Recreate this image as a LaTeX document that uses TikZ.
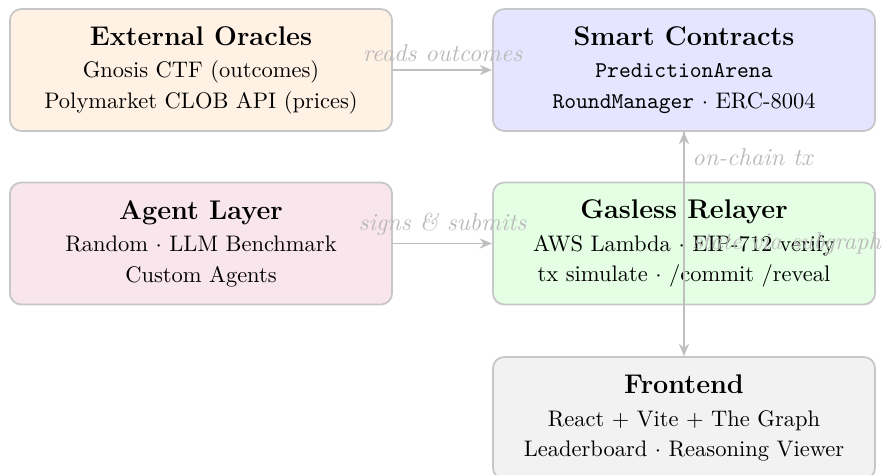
\documentclass[tikz,border=0pt]{standalone}
\usetikzlibrary{arrows.meta}
\begin{document}
\begin{tikzpicture}[x=0.4444pt,y=-0.4444pt,
  box/.style={draw=black!22, line width=0.8pt, rounded corners=5pt,
    minimum width=169.8pt, minimum height=54.2pt, align=center, inner sep=0pt},
  conn/.style={draw=black!25, line width=0.8pt, -{Stealth[length=5.5pt,width=4.5pt]}},
  lbl/.style={text=black!27, font=\fontsize{10.8}{13}\selectfont\itshape}]
\useasboundingbox (0,0) rectangle (885,474);
\clip (0,0) rectangle (885,474);
\node[box, fill=orange!10] (oracles) at (201,70)
  {{\large\bfseries External Oracles}\\[2.5pt] Gnosis CTF (outcomes)\\[1.5pt] Polymarket CLOB API (prices)};
\node[box, fill=blue!10] (contracts) at (684,70)
  {{\large\bfseries Smart Contracts}\\[2.5pt] \texttt{PredictionArena}\\[1.5pt] \texttt{RoundManager} $\cdot$ ERC-8004};
\node[box, fill=purple!10] (agent) at (201,243.5)
  {{\large\bfseries Agent Layer}\\[2.5pt] Random $\cdot$ LLM Benchmark\\[1.5pt] Custom Agents};
\node[box, fill=green!10] (relayer) at (684,243.5)
  {{\large\bfseries Gasless Relayer}\\[2.5pt] AWS Lambda $\cdot$ EIP-712 verify\\[1.5pt] tx simulate $\cdot$ /commit /reveal};
\node[box, fill=black!5] (frontend) at (684,418)
  {{\large\bfseries Frontend}\\[2.5pt] React + Vite + The Graph\\[1.5pt] Leaderboard $\cdot$ Reasoning Viewer};
\draw[conn] (oracles) -- node[lbl, above] {reads outcomes} (contracts);
\draw[conn] (agent) -- node[lbl, above] {signs \& submits} (relayer);
\draw[conn] (relayer.north) -- node[lbl, right] {on-chain tx} (contracts.south);
\draw[conn] (contracts.south) -- node[lbl, right] {state via subgraph} (frontend.north);
\end{tikzpicture}
\end{document}
